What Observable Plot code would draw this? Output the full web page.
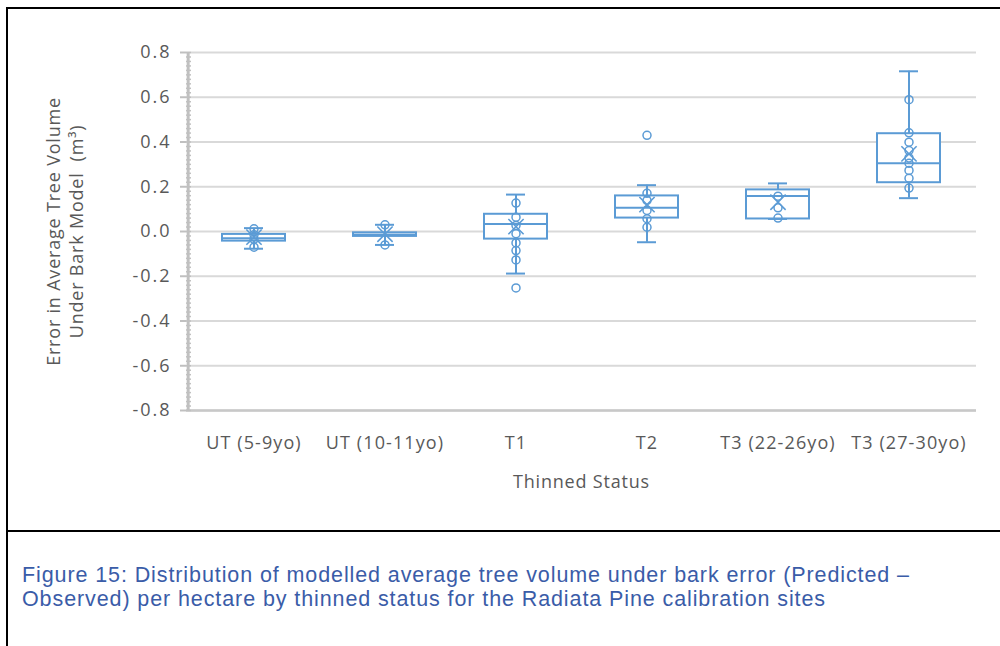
<!DOCTYPE html>
<html><head><meta charset="utf-8">
<script src="https://cdn.jsdelivr.net/npm/d3@7"></script>
<script src="https://cdn.jsdelivr.net/npm/@observablehq/plot@0.6"></script>
<style>
html,body{margin:0;padding:0;background:#fff;width:1000px;height:646px;overflow:hidden;position:relative}
#chart{position:absolute;left:0;top:0}
.bl{position:absolute;background:#000}
#caption{position:absolute;left:22px;top:564px;font-family:"Liberation Sans",Arial,sans-serif;font-size:21.5px;line-height:23.5px;letter-spacing:0.9px;color:#3a5ca8;white-space:nowrap}
#chart g[aria-label="x-axis tick label"] text{letter-spacing:1.1px}
#chart g[aria-label="y-axis tick label"] text{letter-spacing:2px}
#chart g[aria-label="text"] text{letter-spacing:0.8px}
</style></head><body>
<div id="chart"></div>
<div class="bl" style="left:6px;top:7px;width:994px;height:2px"></div>
<div class="bl" style="left:6px;top:7px;width:2px;height:639px"></div>
<div class="bl" style="left:6px;top:530px;width:994px;height:2px"></div>
<div id="caption">Figure 15: Distribution of modelled average tree volume under bark error (Predicted –<br>Observed) per hectare by thinned status for the Radiata Pine calibration sites</div>
<script>
const categories = ["UT (5-9yo)", "UT (10-11yo)", "T1", "T2", "T3 (22-26yo)", "T3 (27-30yo)"];
const q1        = [-0.043, -0.022, -0.034, 0.060, 0.056, 0.218];
const median    = [-0.030, -0.015,  0.034, 0.106, 0.159, 0.305];
const q3        = [-0.013, -0.006,  0.077, 0.159, 0.186, 0.437];
const whiskerLo = [-0.077, -0.060, -0.188, -0.048, 0.056, 0.149];
const whiskerHi = [ 0.015,  0.030,  0.165, 0.207, 0.215, 0.716];
const mean      = [-0.025, -0.012,  0.022, 0.120, 0.131, 0.347];

const pointCategory = [
  "UT (5-9yo)", "UT (5-9yo)", "UT (5-9yo)", "UT (5-9yo)",
  "UT (10-11yo)", "UT (10-11yo)",
  "T1", "T1", "T1", "T1", "T1", "T1", "T1", "T1",
  "T2", "T2", "T2", "T2", "T2", "T2",
  "T3 (22-26yo)", "T3 (22-26yo)", "T3 (22-26yo)",
  "T3 (27-30yo)", "T3 (27-30yo)", "T3 (27-30yo)", "T3 (27-30yo)", "T3 (27-30yo)",
  "T3 (27-30yo)", "T3 (27-30yo)", "T3 (27-30yo)", "T3 (27-30yo)"
];
const pointValue = [
  0.012, -0.015, -0.035, -0.070,
  0.030, -0.060,
  0.127, 0.064, 0.027, -0.010, -0.051, -0.085, -0.127, -0.252,
  0.430, 0.171, 0.139, 0.094, 0.057, 0.019,
  0.158, 0.106, 0.060,
  0.589, 0.441, 0.399, 0.362, 0.329, 0.305, 0.273, 0.238, 0.194
];

const yTicks = [-0.8, -0.6, -0.4, -0.2, 0, 0.2, 0.4, 0.6, 0.8];
const minorTicks = d3.range(-40, 41).map(i => i / 50);

const summary = categories.map((c, i) => ({category: c, q1: q1[i], median: median[i], q3: q3[i], lo: whiskerLo[i], hi: whiskerHi[i], mean: mean[i]}));
const points = pointCategory.map((c, i) => ({category: c, value: pointValue[i]}));

const blue = "#5b9bd5";
const textColor = "#595959";
const font = "'Open Sans', sans-serif";
const W = 1000, mL = 186, mR = 24;
const bw = (W - mL - mR) / categories.length;

const chart = Plot.plot({
  width: W, height: 530,
  marginLeft: mL, marginRight: mR, marginTop: 52, marginBottom: 120,
  style: {background: "transparent", color: textColor, fontFamily: font},
  x: {domain: categories, padding: 0, label: null},
  y: {domain: [-0.8, 0.8], label: null},
  marks: [
    Plot.ruleY(yTicks, {stroke: "#d9d9d9", strokeWidth: 2}),
    Plot.ruleY([-0.8], {stroke: "#c8c8c8", strokeWidth: 2.5}),
    Plot.ruleX([categories[0]], {y1: -0.8, y2: 0.8, dx: -bw / 2, stroke: "#c0c0c0", strokeWidth: 3}),
    Plot.axisY({ticks: minorTicks, tickSize: -5, tickFormat: () => "", stroke: "#c0c0c0", strokeWidth: 1.5, label: null}),
    Plot.axisY({ticks: yTicks, tickSize: 6, tickPadding: 9, tickFormat: d => d.toFixed(1), stroke: "#c0c0c0", strokeWidth: 2, fill: textColor, fontSize: 18, fontFamily: font, label: null}),
    Plot.axisX({tickSize: 0, tickPadding: 26, fill: textColor, fontSize: 18, fontFamily: font, label: null}),
    Plot.barY(summary, {x: "category", y1: "q1", y2: "q3", fill: "white", stroke: blue, strokeWidth: 2, insetLeft: 34, insetRight: 34}),
    Plot.tickY(summary, {x: "category", y: "median", stroke: blue, strokeWidth: 2, insetLeft: 34, insetRight: 34}),
    Plot.ruleX(summary, {x: "category", y1: "q3", y2: "hi", stroke: blue, strokeWidth: 2}),
    Plot.ruleX(summary, {x: "category", y1: "lo", y2: "q1", stroke: blue, strokeWidth: 2}),
    Plot.tickY(summary, {x: "category", y: "hi", stroke: blue, strokeWidth: 2, insetLeft: 56, insetRight: 56}),
    Plot.tickY(summary, {x: "category", y: "lo", stroke: blue, strokeWidth: 2, insetLeft: 56, insetRight: 56}),
    Plot.dot(points, {x: "category", y: "value", r: 4, stroke: blue, strokeWidth: 1.5, fill: "none"}),
    Plot.dot(summary, {x: "category", y: "mean", symbol: "times", r: 7, stroke: blue, strokeWidth: 1.6}),
    Plot.text(["Error in Average Tree Volume\nUnder Bark Model  (m³)"], {text: d => d, frameAnchor: "left", textAnchor: "middle", lineAnchor: "middle", dx: -122, rotate: -90, fontSize: 18, fontFamily: font, fill: textColor, lineHeight: 1.28}),
    Plot.text(["Thinned Status"], {text: d => d, frameAnchor: "bottom", dy: 77, fontSize: 18, fontFamily: font, fill: textColor})
  ]
});
document.getElementById("chart").appendChild(chart);
</script>
</body></html>
